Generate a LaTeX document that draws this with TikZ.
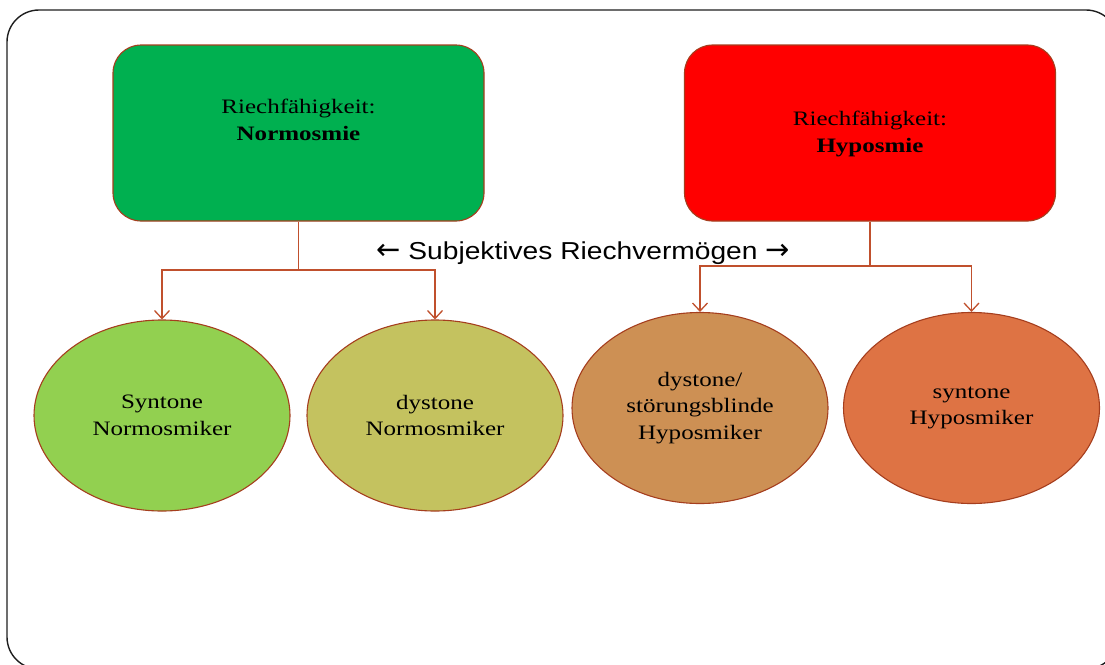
\documentclass[tikz,border=0pt]{standalone}
\usepackage{fontspec}
\usetikzlibrary{arrows.meta,shapes.geometric}
\newfontfamily\garfont[FakeStretch=1.22]{Liberation Serif}
\newfontfamily\labfont[FakeStretch=1.15]{Liberation Sans}
\newfontfamily\arrfont{DejaVu Sans}
\definecolor{frameC}{RGB}{30,30,30}
\definecolor{bordC}{RGB}{165,62,30}
\definecolor{connC}{RGB}{192,80,45}
\definecolor{boxG}{RGB}{0,176,80}
\definecolor{boxR}{RGB}{255,0,0}
\definecolor{ellA}{RGB}{146,208,80}
\definecolor{ellB}{RGB}{196,194,95}
\definecolor{ellC}{RGB}{205,144,84}
\definecolor{ellD}{RGB}{222,115,68}
\tikzset{
  topbox/.style={draw=bordC, line width=1.1pt, rounded corners=28pt,
    minimum width=371pt, minimum height=176pt, inner sep=0pt},
  ovalbox/.style={ellipse, draw=bordC, line width=1.1pt, minimum width=256pt,
    minimum height=191pt, inner sep=0pt, align=center,
    font=\garfont\fontsize{20.5}{26.5}\selectfont},
  boxtext/.style={align=center, inner sep=0pt, font=\garfont\fontsize{20.5}{26.5}\selectfont},
  conn/.style={draw=connC, line width=1.3pt},
  connarrow/.style={conn, -{Straight Barb[length=8pt,width=15pt,line width=1.3pt]}}
}
\begin{document}
\begin{tikzpicture}[x=1pt,y=-1pt]
\useasboundingbox (0,0) rectangle (1105,664);
\clip (0,0) rectangle (1105,664);
\draw[frameC, line width=1.4pt, rounded corners=32pt] (7,10) rectangle (1118,669);
\node[topbox, fill=boxG] (g) at (298.5,133) {};
\node[topbox, fill=boxR] (r) at (870,133) {};
\node[boxtext] (gt) at (298.5,120) {Riechfähigkeit:\\\textbf{Normosmie}};
\node[boxtext] (rt) at (870,134) {Riechfähigkeit:\\\textbf{Hyposmie}};
\node[ovalbox, fill=ellA] (e1) at (162,415.5) {Syntone\\Normosmiker};
\node[ovalbox, fill=ellB] (e2) at (435,415.5) {dystone\\Normosmiker};
\node[ovalbox, fill=ellC] (e3) at (700,408) {dystone/\\störungsblinde\\Hyposmiker};
\node[ovalbox, fill=ellD] (e4) at (971.5,408) {syntone\\Hyposmiker};
\coordinate (jg) at (298.5,270);
\coordinate (jr) at (870,266);
\draw[conn] (g.south) -- (jg);
\draw[connarrow] (jg) -| (e1.north);
\draw[connarrow] (jg) -| (e2.north);
\draw[conn] (r.south) -- (jr);
\draw[connarrow] (jr) -| (e3.north);
\draw[connarrow] (jr) -| (e4.north);
\node[font=\labfont\fontsize{24.5}{28}\selectfont, inner sep=0pt] (lab) at (583,253) {{\arrfont\fontsize{29}{28}\selectfont ←} Subjektives Riechvermögen {\arrfont\fontsize{29}{28}\selectfont →}};
\end{tikzpicture}
\end{document}
